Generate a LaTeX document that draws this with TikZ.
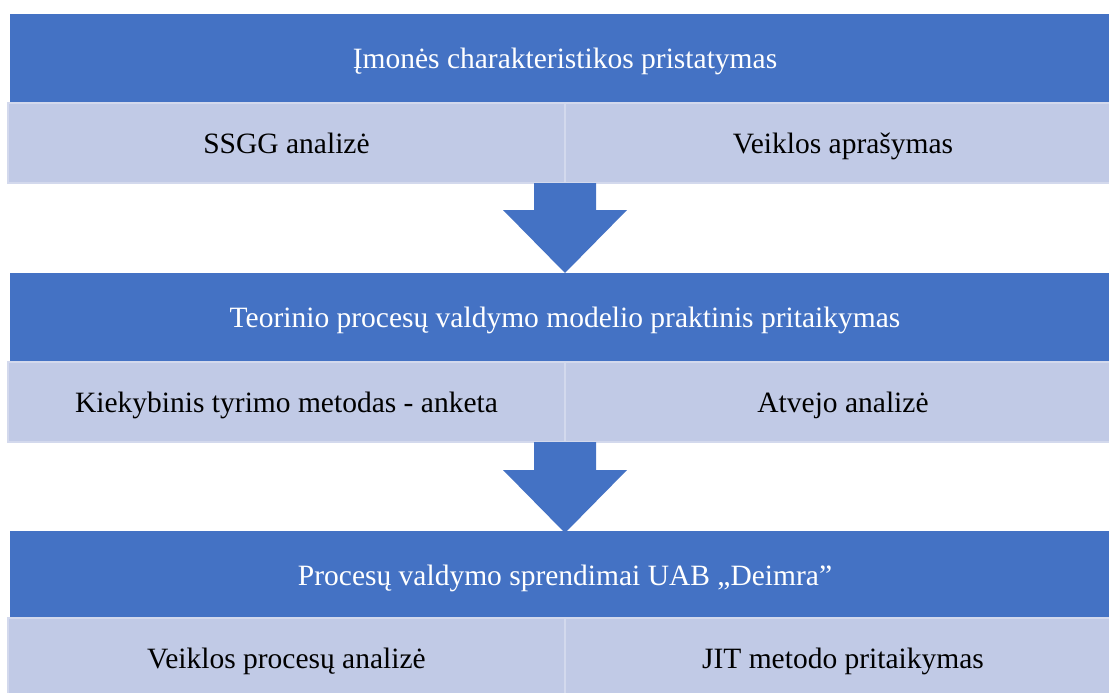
\documentclass[tikz,border=0pt]{standalone}
\usepackage{fontspec}
\setmainfont{Liberation Serif}
\definecolor{hdrblue}{HTML}{4472C4}
\definecolor{cellfill}{HTML}{C1CAE6}
\definecolor{cellrule}{HTML}{D3D9ED}
\tikzset{
  txt/.style={font=\fontsize{29.5}{34}\selectfont, text height=22pt, text depth=2pt},
  hdr/.style={txt, fill=hdrblue, text=white, minimum width=1125pt, minimum height=89pt,
    inner sep=0pt, outer sep=0pt},
  cell/.style={txt, fill=cellfill, draw=cellrule, line width=2.5pt, minimum height=80pt,
    inner sep=0pt, outer sep=0pt, text=black},
  cellL/.style={cell, minimum width=557pt},
  cellR/.style={cell, minimum width=570pt},
  downarrow/.style={fill=hdrblue},
}
% block arrow hanging from a point: shaft half-width 31, head half-width 62
\newcommand{\blockarrow}[3]{% start, shaft length, total length
  \fill[downarrow] ([xshift=-31pt]#1) -- ([xshift=31pt]#1)
    -- ([xshift=31pt,yshift=-#2]#1) -- ([xshift=62pt,yshift=-#2]#1)
    -- ([yshift=-#3]#1) -- ([xshift=-62pt,yshift=-#2]#1)
    -- ([xshift=-31pt,yshift=-#2]#1) -- cycle;}
\begin{document}
\begin{tikzpicture}[x=1pt,y=-1pt]
\useasboundingbox (0,0) rectangle (1109,693);

% block 1
\node[hdr] (h1) at (572.5,58.5) {};
\node[txt, text=white] (t1) at (565,58.5) {Įmonės charakteristikos pristatymas};
\node[cellL] (c1l) at (286.5,143) {SSGG analizė};
\node[cellR] (c1r) at (850,143) {};
\node[txt] (t1r) at (843,143) {Veiklos aprašymas};

% block 2
\node[hdr] (h2) at (572.5,317.5) {};
\node[txt, text=white] (t2) at (565,317.5) {Teorinio procesų valdymo modelio praktinis pritaikymas};
\node[cellL] (c2l) at (286.5,402) {Kiekybinis tyrimo metodas - anketa};
\node[cellR] (c2r) at (850,402) {};
\node[txt] (t2r) at (843,402) {Atvejo analizė};

% block 3
\node[hdr] (h3) at (572.5,575.5) {};
\node[txt, text=white] (t3) at (565,575.5) {Procesų valdymo sprendimai UAB „Deimra”};
\node[cellL] (c3l) at (286.5,658) {Veiklos procesų analizė};
\node[cellR] (c3r) at (850,658) {};
\node[txt] (t3r) at (843,658) {JIT metodo pritaikymas};

% connecting block arrows
\coordinate (a1) at (c1r.south west);
\coordinate (a2) at (c2r.south west);
\blockarrow{a1}{27pt}{90pt}
\blockarrow{a2}{28pt}{91pt}
\end{tikzpicture}
\end{document}
